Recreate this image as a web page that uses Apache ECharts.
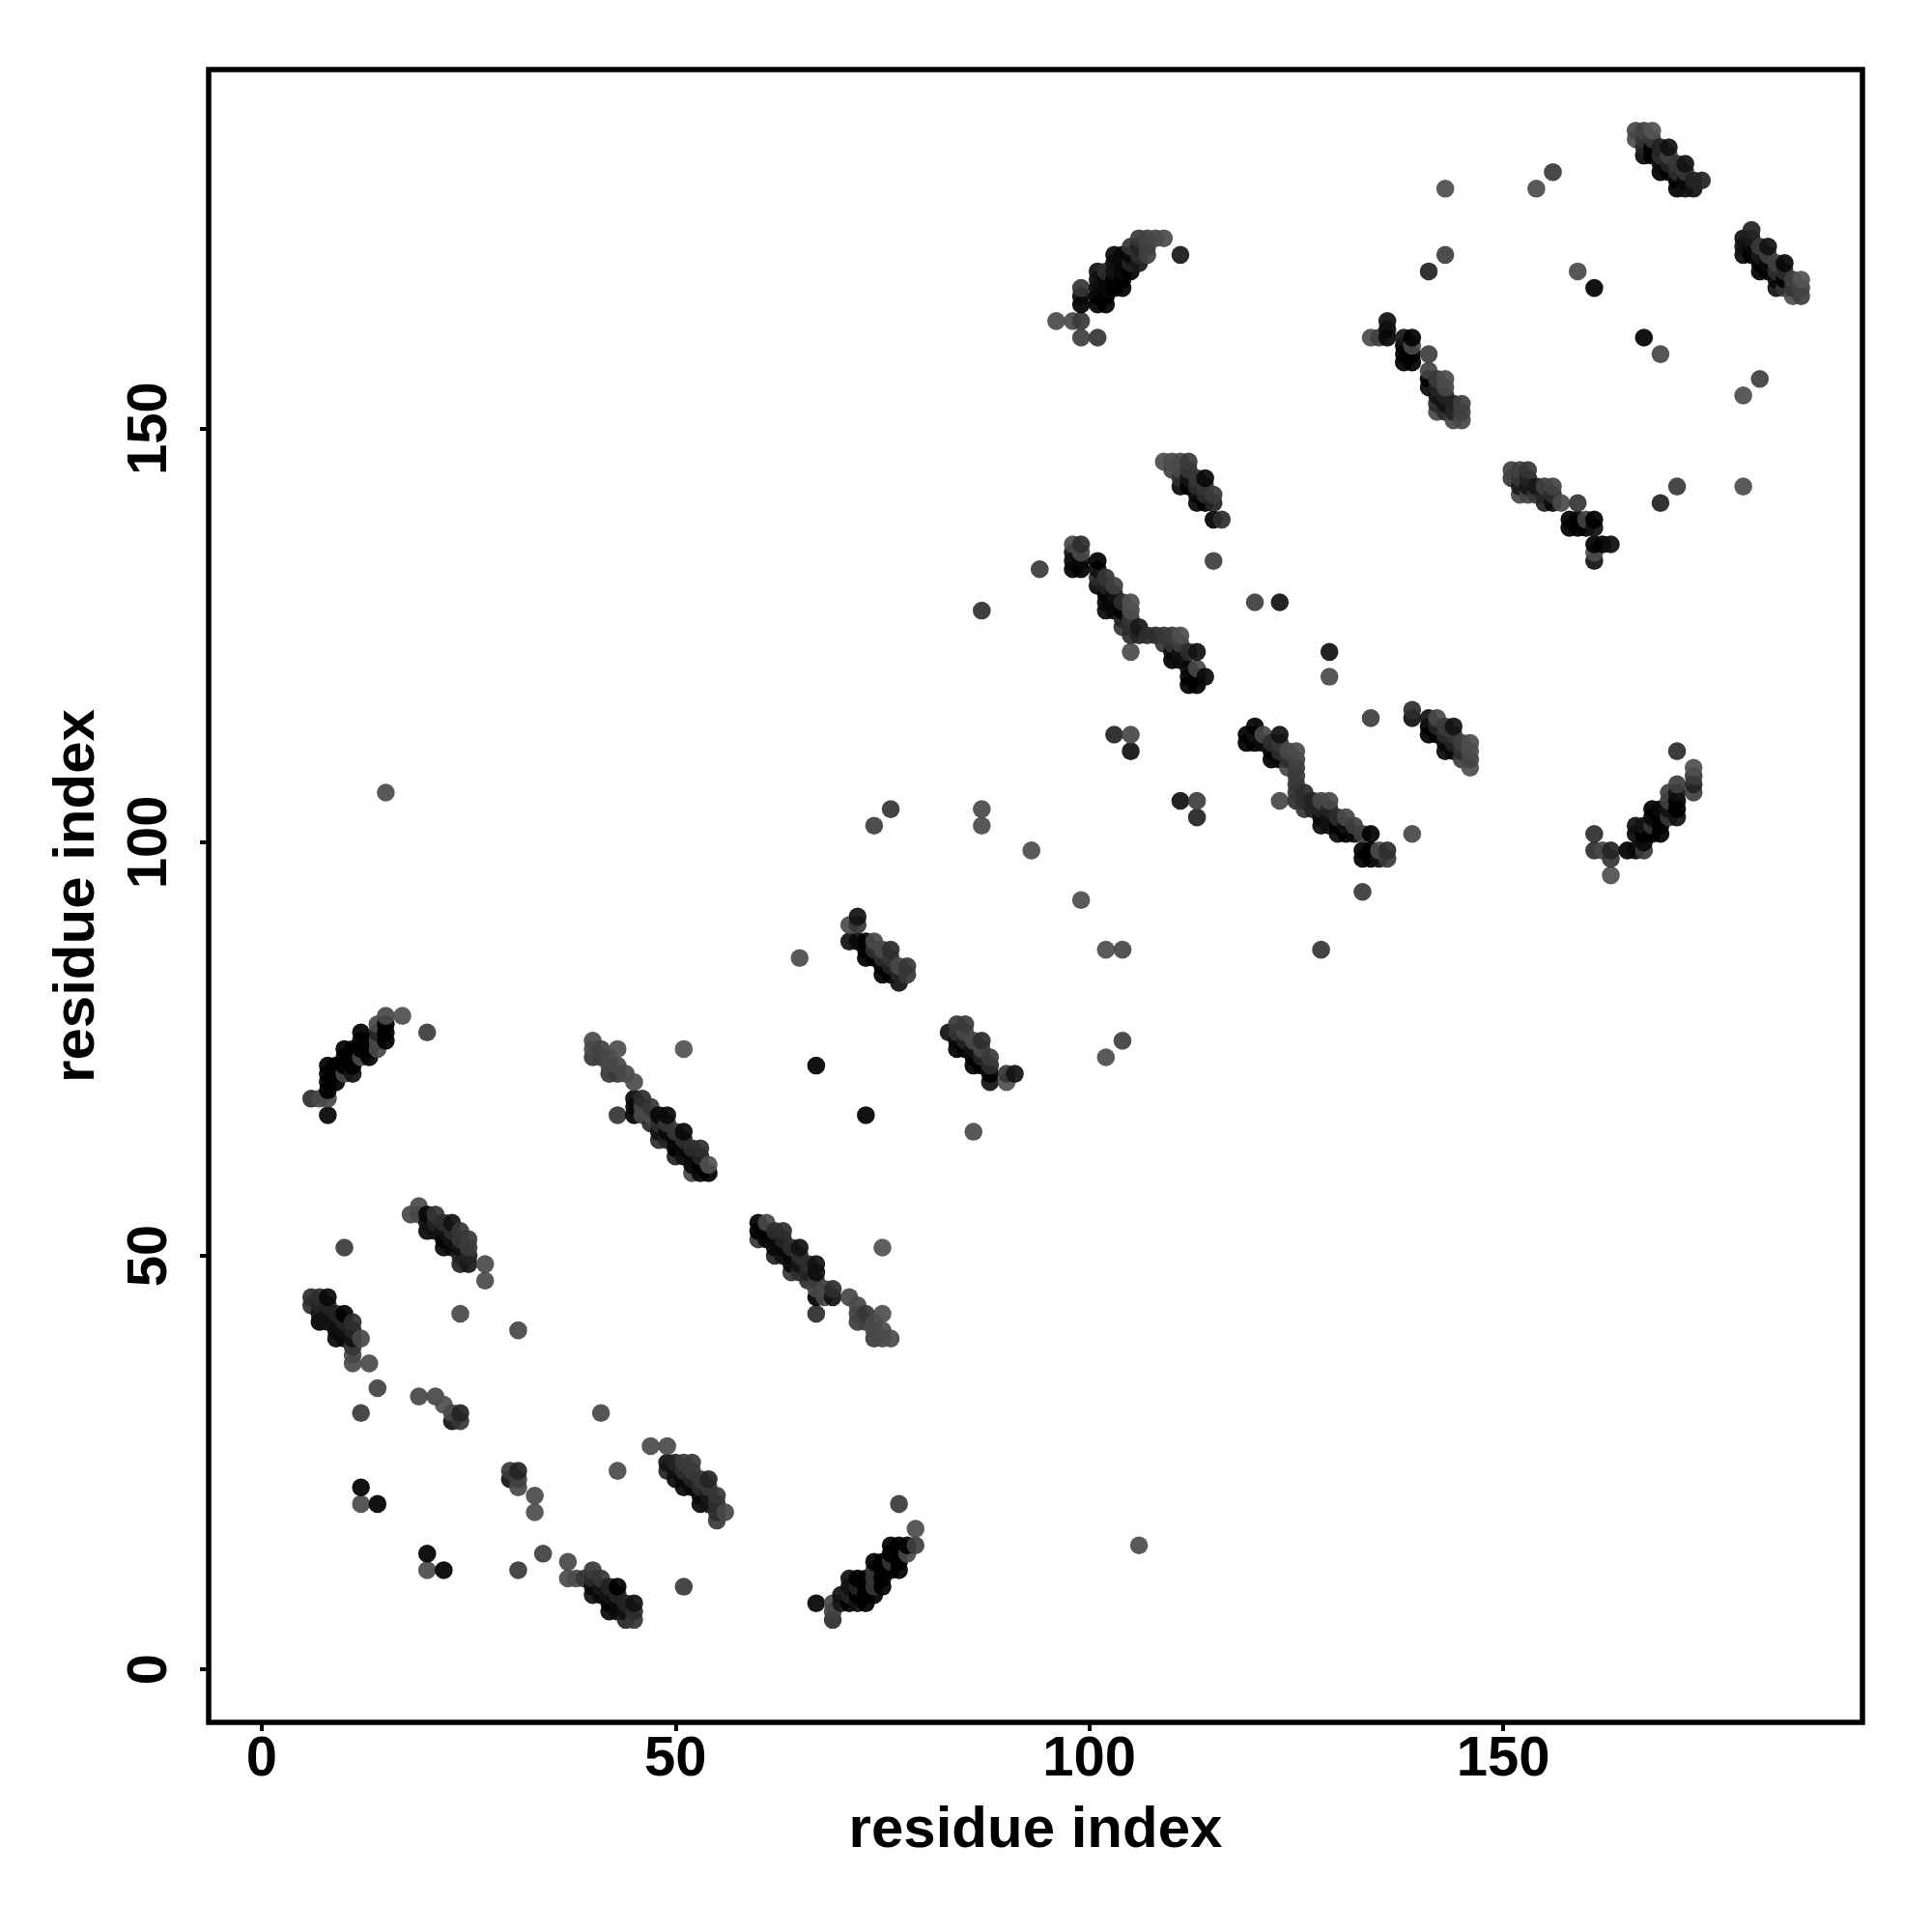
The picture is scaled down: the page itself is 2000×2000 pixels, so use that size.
<!DOCTYPE html>
<html><head><meta charset="utf-8"><style>html,body{margin:0;background:#fff}#c{width:2000px;height:2000px}</style>
<script src="https://cdn.jsdelivr.net/npm/echarts@6/dist/echarts.min.js"></script></head><body><div id="c"></div>
<script>
const tickValues=[0,50,100,150];
const axisTitle='residue index';
// each contact: [residue x, residue y, grey level as seen]
const bandA=[[6,69,60],[7,69,85],[8,67,22],[8,69,85],[8,70,17],[8,71,17],[8,72,17],[8,73,17],[9,71,17],[9,72,17],[9,73,17],[10,72,85],[10,73,17],[10,74,17],[10,75,10],[11,72,34],[11,73,17],[11,74,17],[11,75,10],[12,74,85],[12,75,10],[12,76,10],[12,77,17],[13,74,17],[13,75,10],[13,76,10],[14,75,85],[14,76,85],[14,77,51],[14,78,85],[15,76,17],[15,77,17],[15,78,17],[15,79,85],[17,79,92],[20,77,75]];
const bandB=[[6,44,60],[6,45,60],[7,42,17],[7,43,34],[7,44,51],[7,45,60],[8,42,34],[8,43,34],[8,44,51],[8,45,26],[9,40,26],[9,41,26],[9,42,34],[9,43,51],[10,40,26],[10,41,34],[10,42,51],[10,43,17],[11,37,88],[11,38,85],[11,39,68],[11,40,34],[11,41,51],[11,42,60],[12,40,85],[13,37,88],[14,34,80],[12,31,72]];
const bandC=[[10,51,72],[18,55,85],[19,55,85],[19,56,88],[20,53,26],[20,54,34],[20,55,26],[21,53,34],[21,54,51],[21,55,68],[22,51,26],[22,52,17],[22,53,34],[22,54,60],[23,51,26],[23,52,34],[23,53,60],[23,54,34],[24,43,85],[24,49,51],[24,50,51],[24,51,34],[24,52,68],[24,53,68],[25,49,40],[25,50,51],[25,51,72],[25,52,72],[27,47,88],[27,49,88],[31,41,85]];
const bandD=[[40,74,68],[40,75,85],[40,76,88],[41,74,78],[41,75,80],[42,72,68],[42,73,80],[42,74,85],[43,67,68],[43,72,72],[43,73,85],[43,75,92],[44,72,85],[45,67,17],[45,68,26],[45,69,26],[45,71,88],[46,67,85],[46,68,85],[46,69,60],[47,66,60],[47,67,88],[47,68,68],[48,64,60],[48,65,34],[48,66,60],[48,67,26],[49,64,51],[49,65,26],[49,66,68],[49,67,26],[50,62,51],[50,63,17],[50,64,26],[50,65,68],[51,62,34],[51,63,26],[51,64,60],[51,65,26],[51,75,95],[52,60,85],[52,61,26],[52,62,26],[52,63,60],[53,60,26],[53,61,17],[53,62,51],[53,63,60],[54,60,17],[54,61,92]];
const bandE=[[60,52,68],[60,53,17],[60,54,17],[61,52,26],[61,53,17],[61,54,85],[62,50,51],[62,51,26],[62,52,26],[62,53,60],[63,50,34],[63,51,26],[63,52,51],[63,53,60],[64,48,68],[64,49,26],[64,50,26],[64,51,60],[65,48,60],[65,49,34],[65,50,60],[65,51,34],[66,47,60],[66,48,51],[66,49,60],[67,43,60],[67,45,17],[67,46,85],[67,47,72],[67,48,30],[67,49,34],[68,45,85],[68,46,85],[69,45,34],[69,46,60],[71,45,85],[72,42,75],[72,43,80],[72,44,85],[73,42,80],[73,43,68],[74,40,72],[74,41,85],[74,42,85],[75,40,85],[75,41,88],[75,43,92],[75,51,95],[76,40,88]];
const bandF=[[65,86,88],[71,88,34],[71,90,88],[72,88,26],[72,90,68],[72,91,34],[73,86,17],[73,87,17],[73,88,17],[74,86,17],[74,87,60],[74,88,85],[75,84,17],[75,85,17],[75,86,60],[75,87,85],[76,84,17],[76,85,51],[76,86,68],[76,87,60],[77,83,34],[77,84,51],[77,85,85],[78,84,72],[78,85,68]];
const bandG=[[67,73,17],[73,67,17],[83,77,34],[84,75,17],[84,76,26],[84,77,68],[84,78,72],[85,75,17],[85,76,51],[85,77,85],[85,78,72],[86,65,88],[86,73,17],[86,74,17],[86,75,34],[86,76,85],[87,73,17],[87,74,51],[87,75,85],[87,76,60],[88,71,34],[88,72,17],[88,73,60],[88,74,72],[90,71,92],[90,72,68],[91,72,34]];
const bandH=[[12,22,17],[12,20,88],[14,20,17],[20,14,17],[20,12,88],[22,12,17],[31,12,72],[34,14,76],[19,33,85],[21,33,85],[22,32,92],[23,30,34],[23,31,85],[24,30,68],[24,31,51],[30,23,34],[30,24,72],[31,22,85],[31,23,76],[31,24,51],[33,19,90],[33,21,88],[41,31,85],[43,24,88],[47,27,88],[49,24,51],[49,25,34],[49,27,88],[50,23,26],[50,24,34],[50,25,51],[51,10,72],[51,22,26],[51,23,26],[51,24,60],[51,25,72],[52,22,26],[52,23,51],[52,24,72],[52,25,72],[53,20,26],[53,21,26],[53,22,60],[53,23,68],[54,20,34],[54,21,40],[54,22,68],[54,23,51],[55,18,72],[55,19,60],[55,20,60],[55,21,68],[56,19,85]];
const bandJ=[[37,11,88],[37,13,85],[38,11,88],[39,11,68],[40,9,34],[40,10,26],[40,11,60],[40,12,72],[41,9,26],[41,10,40],[41,11,68],[42,7,26],[42,8,17],[42,9,34],[42,10,51],[43,7,26],[43,8,26],[43,9,51],[43,10,17],[44,6,51],[44,7,34],[44,8,51],[45,6,68],[45,7,60],[45,8,34]];
const bandI=[[67,8,22],[69,6,60],[69,7,76],[69,8,85],[70,8,40],[70,9,34],[71,8,17],[71,9,51],[71,10,34],[71,11,34],[72,8,34],[72,9,17],[72,10,51],[72,11,17],[73,8,17],[73,9,17],[73,10,17],[73,11,10],[74,9,17],[74,10,68],[74,11,68],[74,12,68],[74,13,10],[75,10,17],[75,11,10],[75,12,10],[75,13,10],[76,12,17],[76,13,68],[76,14,17],[76,15,17],[77,12,17],[77,13,17],[77,14,17],[77,15,17],[78,14,85],[78,15,17],[79,15,76],[79,17,90],[77,20,72],[106,15,90],[15,106,88]];
const bandK=[[74,102,76],[76,104,68],[87,102,88],[87,104,88],[87,128,64],[93,99,90],[94,133,72],[99,93,90],[102,87,90],[104,87,85],[102,74,90],[104,76,76],[111,105,34],[113,105,76],[113,103,51],[103,113,51],[105,113,85],[105,111,34],[115,134,76],[120,129,76],[123,129,34],[128,87,68],[129,123,34],[129,120,88],[133,94,72],[134,115,76],[123,105,85],[139,101,85]];
const bandL=[[98,133,17],[98,134,26],[98,135,34],[98,136,85],[99,133,17],[99,134,26],[99,135,85],[99,136,60],[101,131,26],[101,132,60],[101,133,34],[101,134,10],[102,128,26],[102,129,26],[102,130,17],[102,131,51],[102,132,68],[103,128,26],[103,129,26],[103,130,34],[103,131,76],[104,126,68],[104,127,51],[104,128,17],[104,129,60],[105,123,88],[105,125,60],[105,126,60],[105,127,68],[105,128,88],[105,129,92],[106,125,51],[106,126,40],[107,125,60],[108,125,60],[109,124,68],[109,125,68],[110,122,17],[110,123,26],[110,124,68],[110,125,72],[111,122,26],[111,123,34],[111,124,76],[111,125,90],[112,119,17],[112,120,17],[112,121,26],[112,123,60],[113,119,17],[113,120,17],[113,121,85],[113,123,34],[114,120,26]];
const bandM=[[109,146,90],[110,145,80],[110,146,88],[111,143,26],[111,144,60],[111,145,85],[111,146,85],[112,143,17],[112,144,34],[112,145,68],[112,146,72],[113,141,26],[113,142,26],[113,143,60],[113,144,68],[114,141,17],[114,142,60],[114,143,68],[114,144,26],[115,139,17],[115,141,51],[115,142,72],[116,139,60]];
const bandN=[[119,112,17],[119,113,17],[120,112,17],[120,113,34],[120,114,17],[121,112,26],[121,113,85],[122,110,17],[122,111,17],[122,112,60],[123,110,26],[123,111,60],[123,112,68],[123,113,34],[124,109,85],[124,110,60],[124,111,85],[125,105,60],[125,106,68],[125,107,68],[125,108,72],[125,109,72],[125,110,76],[125,111,88],[126,104,68],[126,105,60],[126,106,60],[127,104,51],[127,105,51],[128,102,26],[128,103,26],[128,104,51],[128,105,85],[129,102,34],[129,103,34],[129,104,51],[129,105,85],[130,101,26],[130,102,17],[130,103,60],[131,101,17],[131,102,34],[131,103,85],[132,101,26],[132,102,76],[133,98,17],[133,99,17],[133,101,76],[134,98,17],[134,99,17],[134,101,8],[135,98,34],[135,99,88],[136,98,72],[136,99,60]];
const bandO=[[139,115,34],[139,116,60],[141,113,17],[141,114,17],[141,115,34],[142,113,17],[142,114,51],[142,115,85],[143,111,26],[143,112,26],[143,113,60],[143,114,72],[144,111,26],[144,112,51],[144,113,68],[144,114,34],[145,110,76],[145,111,60],[145,112,76],[146,109,92],[146,110,80],[146,111,88],[146,112,90]];
const bandP=[[96,163,88],[98,163,88],[99,161,76],[99,163,72],[99,165,17],[99,166,26],[99,167,68],[101,161,68],[101,165,17],[101,166,17],[101,167,26],[101,168,34],[101,169,34],[102,165,17],[102,166,17],[102,167,26],[102,168,26],[102,169,60],[103,167,17],[103,168,17],[103,169,34],[103,170,34],[103,171,26],[104,167,17],[104,168,17],[104,169,26],[104,170,26],[104,171,26],[105,169,17],[105,170,51],[105,171,26],[105,172,68],[106,170,40],[106,171,60],[106,172,51],[106,173,72],[107,171,76],[107,172,76],[107,173,80],[108,173,85],[109,173,88],[111,171,40]];
const bandQ=[[134,161,88],[135,161,76],[136,161,26],[136,162,26],[136,163,34],[138,158,10],[138,159,10],[138,160,17],[138,161,40],[139,158,10],[139,159,10],[139,160,85],[139,161,17],[141,155,26],[141,156,17],[141,157,80],[141,159,76],[142,152,85],[142,153,60],[142,154,34],[142,155,51],[142,156,72],[143,152,60],[143,153,34],[143,154,51],[143,155,85],[143,156,88],[144,151,85],[144,152,51],[144,153,51],[145,151,85],[145,152,76],[145,153,76],[143,171,76],[143,179,90],[141,169,51]];
const bandR=[[151,144,72],[151,145,76],[152,142,85],[152,143,40],[152,144,68],[152,145,76],[153,142,80],[153,143,40],[153,144,51],[153,145,68],[154,142,68],[154,143,40],[155,141,51],[155,142,51],[155,143,76],[156,141,26],[156,142,60],[156,143,80],[157,141,88],[159,141,68],[158,138,10],[158,139,10],[159,138,10],[159,139,10],[160,138,17],[160,139,80],[161,134,34],[161,135,88],[161,136,17],[161,138,34],[161,139,8],[162,136,17],[163,136,30]];
const bandS=[[154,179,88],[156,181,72],[159,169,88],[161,167,17],[167,161,17],[169,159,85],[169,141,51],[171,143,72],[179,143,90],[179,154,90],[181,156,76],[166,185,92],[166,186,85],[167,183,26],[167,184,51],[167,185,68],[167,186,80],[168,183,17],[168,184,17],[168,185,68],[168,186,95],[169,181,17],[169,182,26],[169,183,60],[169,184,51],[170,181,10],[170,182,51],[170,183,76],[170,184,34],[171,179,17],[171,180,17],[171,181,60],[171,182,68],[172,179,34],[172,180,26],[172,181,68],[172,182,34],[173,179,34],[173,180,51],[174,180,51]];
const bandT=[[179,171,26],[179,172,34],[179,173,34],[180,171,17],[180,172,26],[180,173,40],[180,174,51],[181,169,17],[181,170,17],[181,171,40],[181,172,72],[182,169,17],[182,170,26],[182,171,76],[182,172,34],[183,167,34],[183,168,26],[183,169,60],[183,170,76],[184,167,68],[184,168,17],[184,169,60],[184,170,26],[185,166,92],[185,167,68],[185,168,76],[186,166,76],[186,167,80],[186,168,95]];
const bandU=[[161,99,60],[161,101,60],[162,99,85],[163,96,92],[163,98,68],[163,99,51],[165,99,17],[166,99,26],[166,101,26],[166,102,34],[167,99,72],[167,100,26],[167,101,17],[167,102,34],[168,101,17],[168,102,68],[168,103,26],[168,104,17],[169,101,17],[169,102,17],[169,103,17],[169,104,26],[170,103,68],[170,104,34],[170,105,76],[170,106,76],[171,103,34],[171,104,17],[171,105,17],[171,106,34],[171,107,76],[171,111,60],[173,106,76],[173,107,51],[173,108,72],[173,109,92]];

const contacts=[bandA,bandB,bandC,bandD,bandE,bandF,bandG,bandH,bandI,bandJ,bandK,bandL,bandM,bandN,bandO,bandP,bandQ,bandR,bandS,bandT,bandU].flat()
  .sort((p,q)=>p[0]-q[0]||p[1]-q[1]);
const ALPHA=0.93;
const fill=g=>{const c=Math.max(0,Math.round((g-255*(1-ALPHA))/ALPHA));return `rgba(${c},${c},${c},${ALPHA})`;};
const font={fontFamily:'"Liberation Sans"',fontWeight:'bold',color:'#000'};
const axisCommon={type:'value',min:-6.4,max:193.4,splitLine:{show:false},
  axisLine:{show:false,onZero:false},
  axisTick:{show:true,customValues:tickValues,length:9,lineStyle:{color:'#000',width:4}},
  nameLocation:'middle',name:axisTitle,nameTextStyle:{...font,fontSize:60}};
const chart=echarts.init(document.getElementById('c'),null,{renderer:'canvas',devicePixelRatio:1});
chart.setOption({animation:false,backgroundColor:'#fff',
 grid:{left:216,top:72,width:1712,height:1711,show:true,borderColor:'#000',borderWidth:5.5,backgroundColor:'#fff'},
 xAxis:{...axisCommon,axisLabel:{...font,fontSize:58,customValues:tickValues,margin:10},nameGap:82},
 yAxis:{...axisCommon,axisLabel:{...font,fontSize:58,customValues:tickValues,rotate:90,margin:60,align:'center',verticalAlign:'middle'},nameGap:106},
 series:[{type:'scatter',symbol:'circle',symbolSize:18.6,clip:false,large:false,
   itemStyle:{opacity:1},
   data:contacts.map(p=>({value:[p[0],p[1]],itemStyle:{color:fill(p[2]),opacity:1}}))}]});
</script></body></html>
